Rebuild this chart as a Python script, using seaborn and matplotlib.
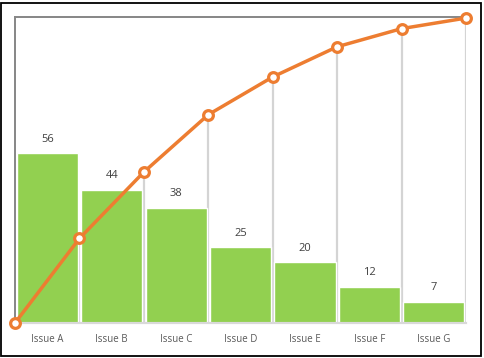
import numpy as np
import matplotlib
matplotlib.use("Agg")
import matplotlib.pyplot as plt
import seaborn as sns
from matplotlib.patches import Rectangle

sns.set_style("white")
plt.rcParams["font.family"] = ["Open Sans", "DejaVu Sans"]

issues = ["Issue A", "Issue B", "Issue C", "Issue D", "Issue E", "Issue F", "Issue G"]
counts = [56, 44, 38, 25, 20, 12, 7]

green = "#92D050"
orange = "#ED7D31"

cum_pct = np.concatenate([[0], np.cumsum(counts)]) / np.sum(counts) * 100
edges = np.arange(len(issues) + 1) - 0.5

fig = plt.figure(figsize=(4.85, 3.58), dpi=100)
fig.patches.append(Rectangle((0.003, 0.006), 0.989, 0.986, transform=fig.transFigure,
                             fill=False, edgecolor="black", lw=1.3))
ax = fig.add_axes([0.031, 0.098, 0.930, 0.855])

sns.barplot(x=issues, y=counts, color=green, width=0.95, saturation=1, ax=ax, zorder=2)
ax.bar_label(ax.containers[0], padding=6, fontsize=8, color="#404040")
ax.set_xlim(-0.5, len(issues) - 0.5)
ax.set_ylim(0, 101)

ax2 = ax.twinx()
ax2.set_ylim(0, 100.4)
# drop lines from each cumulative point, drawn behind the bars
ax.vlines(edges[1:], 0, cum_pct[1:] / 100.4 * 101, color="#d4d4d4", lw=1.6, zorder=1)
sns.lineplot(x=edges, y=cum_pct, ax=ax2, color=orange, lw=2.5, marker="o", markersize=7,
             markerfacecolor="white", markeredgecolor=orange, markeredgewidth=2.3, clip_on=False,
             zorder=5)

ax.set_xlabel("")
ax.set_ylabel("")
ax.set_yticks([])
ax2.set_yticks([])
ax.tick_params(axis="x", length=0, pad=8, labelsize=7, labelcolor="#595959")

for a in (ax, ax2):
    a.spines["right"].set_visible(False)
    a.spines["left"].set_color("#888888")
    a.spines["left"].set_linewidth(1.3)
    a.spines["top"].set_color("#888888")
    a.spines["top"].set_linewidth(1.3)
    a.spines["bottom"].set_color("#d9d9d9")
    a.spines["bottom"].set_linewidth(1.5)

fig.savefig("out.png", dpi=100)
